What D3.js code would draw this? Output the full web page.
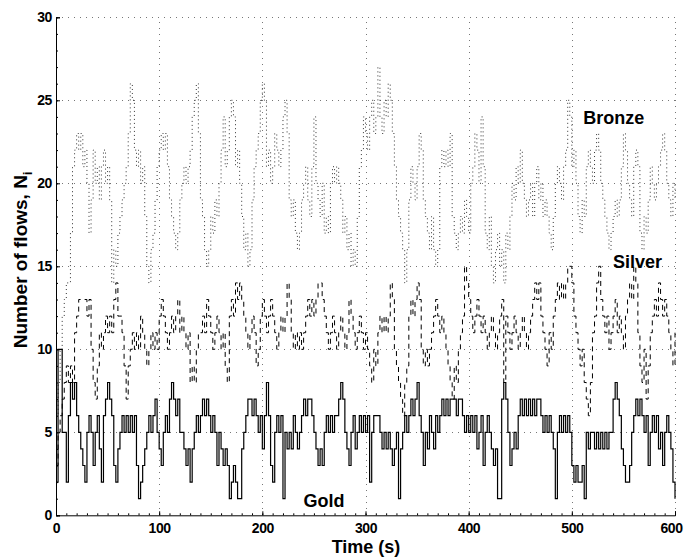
<!DOCTYPE html>
<html>
<head>
<meta charset="UTF-8">
<title>Number of flows per class</title>
<script src="https://cdn.jsdelivr.net/npm/d3@7"></script>
<style>
  body { margin: 0; background: #fff; }
  svg text { font-family: "Liberation Sans", Arial, Helvetica, sans-serif; font-weight: bold; fill: #000; }
</style>
</head>
<body>
<svg id="chart" width="685" height="558"></svg>
<script>
// samples every 2 s, t = 0 .. 600
const sampleStep = 2;

const gold = [
  2,10,10,5,5,2,6,8,7,8,
  6,5,4,3,2,5,6,5,3,5,
  6,4,2,6,7,8,7,6,3,2,
  4,5,6,5,6,5,6,5,6,3,
  1,2,3,4,5,6,5,6,7,5,
  4,3,5,6,5,7,8,7,6,7,
  5,5,4,3,4,2,4,5,6,5,
  6,7,6,7,6,5,6,5,3,5,
  4,3,4,3,1,2,3,2,1,1,
  4,5,6,7,7,6,7,6,5,6,
  4,6,8,6,3,2,5,6,5,6,
  1,5,4,5,4,6,5,4,5,6,
  7,6,7,7,6,5,4,3,4,3,
  5,6,5,6,5,6,6,7,8,7,
  5,4,3,5,6,4,5,6,5,6,
  5,6,2,5,6,6,6,5,4,5,
  4,5,4,3,4,5,1,4,5,6,
  5,6,7,6,7,8,6,5,3,5,
  4,6,5,4,6,5,6,7,6,7,
  6,7,7,7,6,7,7,6,5,6,
  5,6,5,6,4,5,6,3,5,6,
  5,4,3,4,1,1,7,8,7,5,
  3,4,5,4,6,7,6,7,6,7,
  6,7,6,7,7,6,5,6,5,6,
  5,4,1,5,6,5,6,5,6,5,
  3,2,3,2,2,3,1,5,4,5,
  5,4,5,4,5,4,5,4,5,5,
  7,8,7,6,4,3,2,2,3,5,
  6,7,6,7,6,5,6,3,5,6,
  5,6,4,5,3,5,6,5,4,2,
  1
];

const silver = [
  3,5,6,7,8,9,8,9,8,11,
  12,13,13,13,13,12,13,10,8,7,
  9,11,10,11,12,11,12,11,13,14,
  12,12,11,9,7,9,10,11,10,11,
  10,12,11,10,9,10,11,10,11,10,
  12,13,12,11,10,11,12,11,12,13,
  11,12,11,10,11,8,9,8,10,11,
  11,12,11,13,12,11,10,11,12,11,
  10,11,9,8,12,13,12,14,13,14,
  13,12,11,10,11,12,11,9,10,12,
  13,12,11,12,13,12,11,10,11,12,
  11,12,14,13,11,10,11,10,11,10,
  11,12,13,12,13,12,13,14,14,13,
  12,11,10,11,12,11,10,11,12,11,
  10,11,13,12,11,10,11,12,11,10,
  11,10,9,8,10,9,11,12,11,12,
  11,12,14,13,10,9,8,7,6,8,
  9,12,13,12,13,14,13,10,9,10,
  9,10,11,12,13,12,11,12,11,10,
  9,8,7,9,8,10,11,12,15,14,
  13,12,11,12,13,12,11,12,11,10,
  11,12,11,10,11,12,13,8,12,11,
  10,11,12,11,10,11,12,11,10,11,
  12,13,14,13,14,12,11,10,9,11,
  10,12,13,14,13,14,13,14,15,15,
  14,12,11,10,9,10,8,7,6,8,
  11,12,14,15,13,12,11,12,10,11,
  12,13,11,12,11,10,12,13,14,13,
  15,14,11,9,8,10,7,9,11,12,
  13,12,14,13,12,13,12,11,10,9,
  11
];

const bronze = [
  6,8,10,12,13,14,14,17,21,22,
  23,22,23,21,22,20,17,19,22,20,
  21,19,21,22,20,21,19,14,16,15,
  17,18,19,20,21,23,26,25,22,21,
  22,20,21,18,15,14,16,17,19,21,
  22,23,22,23,21,19,18,17,16,17,
  19,20,21,20,21,22,24,25,26,23,
  19,18,16,15,16,18,17,19,18,20,
  22,24,21,22,24,25,24,21,22,20,
  18,16,17,15,16,19,21,22,23,25,
  26,25,21,22,20,21,23,22,21,22,
  24,25,23,19,18,19,17,16,17,19,
  20,21,19,18,21,24,20,19,18,20,
  17,18,17,20,21,20,21,20,19,17,
  18,16,17,15,16,15,18,21,22,24,
  23,22,24,25,23,24,27,24,23,25,
  24,26,25,23,21,19,18,17,16,14,
  16,19,21,20,19,21,23,22,19,18,
  17,16,18,16,15,16,21,22,21,22,
  21,23,18,17,16,17,18,17,19,18,
  17,20,21,23,22,20,24,21,17,16,
  18,15,14,16,17,15,16,14,17,16,
  18,20,19,21,20,22,20,19,18,19,
  20,18,20,21,19,20,18,19,18,17,
  16,18,20,21,20,19,21,22,25,24,
  21,22,20,18,17,19,18,21,22,21,
  20,22,23,22,20,19,18,17,16,17,
  18,19,18,19,21,23,22,20,19,18,
  21,22,21,17,16,18,17,19,21,20,
  19,20,21,22,23,22,20,19,18,20,
  19
];

const xTicks = [0, 100, 200, 300, 400, 500, 600];
const yTicks = [0, 5, 10, 15, 20, 25, 30];
const classLabels = [
  { name: "Bronze", t: 511, v: 23.6 },
  { name: "Silver", t: 540, v: 14.9 },
  { name: "Gold", t: 240, v: 0.5 }
];

const svg = d3.select("#chart");

const x = d3.scaleLinear().domain([0, 600]).range([56, 675]);
const y = d3.scaleLinear().domain([0, 30]).range([515.3, 17.3]);

// dotted grid
const grid = svg.append("g").attr("stroke", "#777").attr("stroke-width", 1)
  .attr("stroke-dasharray", "1,5").attr("shape-rendering", "crispEdges");
grid.selectAll(".gx").data(xTicks.slice(1)).join("line")
  .attr("x1", d => Math.round(x(d)) + 0.5).attr("x2", d => Math.round(x(d)) + 0.5)
  .attr("y1", y(0)).attr("y2", y(30));
grid.selectAll(".gy").data(yTicks.slice(1)).join("line")
  .attr("y1", d => Math.round(y(d)) + 0.5).attr("y2", d => Math.round(y(d)) + 0.5)
  .attr("x1", x(0)).attr("x2", x(600));

// series
const line = d3.line()
  .x((d, i) => x(i * sampleStep))
  .y(d => y(d))
  .curve(d3.curveStepAfter);

svg.append("path").datum(bronze)
  .attr("fill", "none").attr("stroke", "#333").attr("stroke-width", 1)
  .attr("stroke-dasharray", "1,3")
  .attr("d", line);

svg.append("path").datum(silver)
  .attr("fill", "none").attr("stroke", "#000").attr("stroke-width", 1)
  .attr("stroke-dasharray", "5,4")
  .attr("d", line);

svg.append("path").datum(gold)
  .attr("fill", "none").attr("stroke", "#000").attr("stroke-width", 1.2)
  .attr("d", line);

// axes
const yAxis = svg.append("g")
  .attr("transform", `translate(${x(0)},0)`)
  .call(d3.axisLeft(y).tickValues(yTicks).tickSize(-4).tickPadding(4));
const xAxis = svg.append("g")
  .attr("transform", `translate(0,${y(0)})`)
  .call(d3.axisBottom(x).tickValues(xTicks).tickSize(-4).tickPadding(8));

// minor ticks
svg.append("g")
  .attr("transform", `translate(${x(0)},0)`)
  .call(d3.axisLeft(y).tickValues(d3.range(0, 31, 1)).tickSize(-2).tickFormat(""))
  .call(g => g.select(".domain").remove());
svg.append("g")
  .attr("transform", `translate(0,${y(0)})`)
  .call(d3.axisBottom(x).tickValues(d3.range(0, 601, 10)).tickSize(-2).tickFormat(""))
  .call(g => g.select(".domain").remove());

[yAxis, xAxis].forEach(a => {
  a.selectAll("text").style("font-size", "14px").style("letter-spacing", "-0.4px");
  a.select(".domain").attr("stroke", "#000");
});
// keep the last label inside the page
xAxis.selectAll(".tick").filter(d => d === 600).select("text").attr("dx", -4);

// axis titles
svg.append("text")
  .attr("x", 366).attr("y", 553)
  .attr("text-anchor", "middle")
  .style("font-size", "18px")
  .text("Time (s)");

const yTitle = svg.append("text")
  .attr("transform", "translate(27,260) rotate(-90)")
  .attr("text-anchor", "middle")
  .style("font-size", "19px");
yTitle.append("tspan").text("Number of flows, N");
yTitle.append("tspan").attr("dy", 5).style("font-size", "12px").text("i");

// class labels
svg.selectAll(".cls").data(classLabels).join("text")
  .attr("x", d => x(d.t)).attr("y", d => y(d.v))
  .style("font-size", "18px")
  .text(d => d.name);
</script>
</body>
</html>
